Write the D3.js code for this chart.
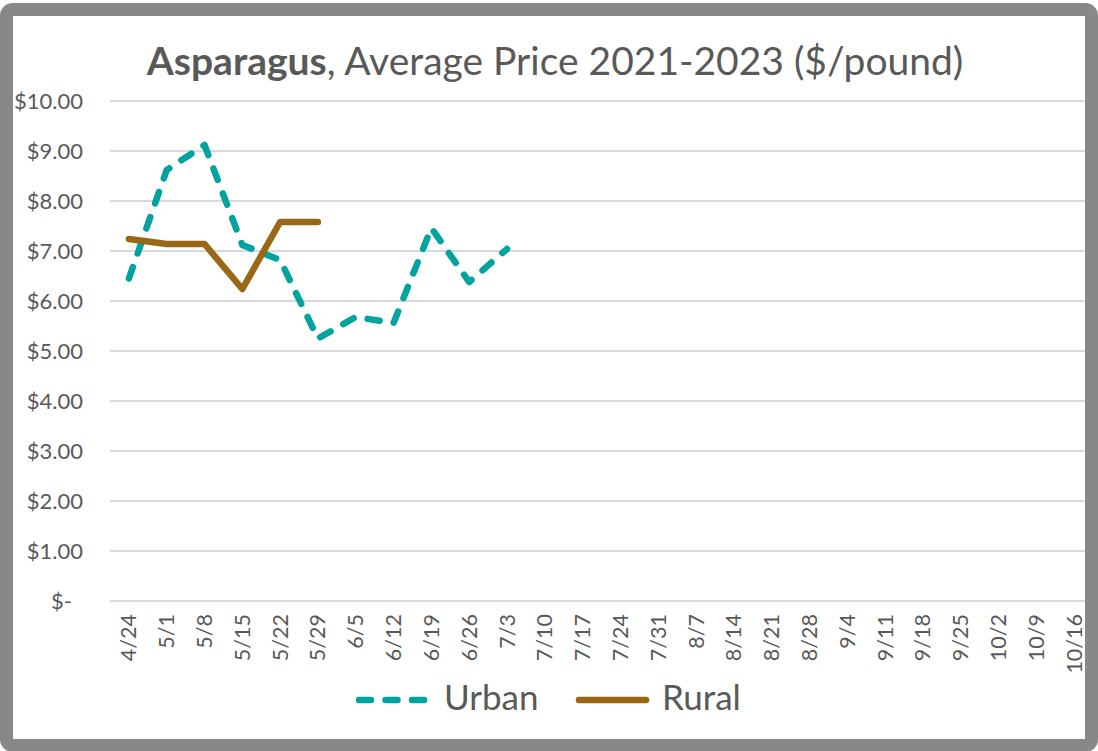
<!DOCTYPE html>
<html>
<head>
<meta charset="utf-8">
<script src="https://cdn.jsdelivr.net/npm/d3@7"></script>
<style>
  body { margin: 0; background: #fff; }
  text { font-family: Lato, "Open Sans", sans-serif; fill: #595959; }
</style>
</head>
<body>
<div id="chart"></div>
<script>
// weeks on the x axis
var weeks = ["4/24","5/1","5/8","5/15","5/22","5/29","6/5","6/12","6/19","6/26","7/3","7/10",
  "7/17","7/24","7/31","8/7","8/14","8/21","8/28","9/4","9/11","9/18","9/25","10/2","10/9","10/16"];
// average price $/pound, only the first weeks have values
var urban = [6.45, 8.62, 9.12, 7.12, 6.82, 5.25, 5.68, 5.56, 7.46, 6.38, 7.04];
var rural = [7.24, 7.14, 7.14, 6.24, 7.58, 7.58];
var yTicks = [0, 1, 2, 3, 4, 5, 6, 7, 8, 9, 10];
var series = [
  {name: "Urban", values: urban, color: "#00A39F", dash: "12,14.5"},
  {name: "Rural", values: rural, color: "#9A6714", dash: null}
];

var W = 1098, H = 751;
var svg = d3.select("#chart").append("svg")
    .attr("width", W)
    .attr("height", H);

var x = d3.scaleBand()
    .domain(weeks)
    .range([110, 1093]);
var y = d3.scaleLinear()
    .domain([0, 10])
    .range([601, 101]);

// gridlines
svg.append("g")
    .selectAll("line")
    .data(yTicks)
    .enter()
    .append("line")
    .attr("x1", 110)
    .attr("x2", 1093)
    .attr("y1", function(d) { return y(d); })
    .attr("y2", function(d) { return y(d); })
    .style("stroke", "#d9d9d9")
    .style("stroke-width", 2);

// y labels
var yAxis = svg.append("g")
    .attr("transform", "translate(110,0)")
    .call(d3.axisLeft(y).tickValues(yTicks).tickSize(0).tickPadding(27)
        .tickFormat(function(d) { return d == 0 ? "$-" : "$" + d3.format(".2f")(d); }));
yAxis.select(".domain").remove();
yAxis.selectAll("text")
    .attr("dx", function(d) { return d == 0 ? -11 : 0; })
    .style("font-size", "22px")
    .style("font-family", "Lato")
    .style("fill", "#595959");

// x labels
var xAxis = svg.append("g")
    .attr("transform", "translate(0,601)")
    .call(d3.axisBottom(x).tickSize(0).tickPadding(0));
xAxis.select(".domain").remove();
xAxis.selectAll("text")
    .attr("transform", "rotate(-90)")
    .attr("x", -13)
    .attr("y", 0)
    .attr("dy", "0.35em")
    .style("text-anchor", "end")
    .style("font-size", "21.5px")
    .style("font-family", "Lato")
    .style("fill", "#595959");

// lines
var line = d3.line()
    .x(function(d, i) { return x(weeks[i]) + x.bandwidth() / 2; })
    .y(function(d) { return y(d); });

series.forEach(function(s) {
    svg.append("path")
        .datum(s.values)
        .attr("d", line)
        .style("fill", "none")
        .style("stroke", s.color)
        .style("stroke-width", 6.5)
        .style("stroke-linecap", "round")
        .style("stroke-linejoin", "round")
        .style("stroke-dasharray", s.dash);
});

// title
var title = svg.append("text")
    .attr("x", 555)
    .attr("y", 75)
    .style("text-anchor", "middle")
    .style("font-size", "39px");
title.append("tspan").style("font-weight", "bold").text("Asparagus");
title.append("tspan").text(", Average Price 2021-2023 ($/pound)");

// legend
var legendPos = [{x1: 359, x2: 426, tx: 444}, {x1: 579, x2: 646, tx: 662}];
series.forEach(function(s, i) {
    var p = legendPos[i];
    svg.append("line")
        .attr("x1", p.x1).attr("x2", p.x2)
        .attr("y1", 700).attr("y2", 700)
        .style("stroke", s.color)
        .style("stroke-width", 6.5)
        .style("stroke-linecap", "round")
        .style("stroke-dasharray", s.dash);
    svg.append("text")
        .attr("x", p.tx)
        .attr("y", 710)
        .style("font-size", "35px")
        .text(s.name);
});

// outer frame
svg.append("rect")
    .attr("x", 6.5)
    .attr("y", 9.5)
    .attr("width", 1085)
    .attr("height", 736)
    .attr("rx", 6)
    .style("fill", "none")
    .style("stroke", "#888888")
    .style("stroke-width", 13);
</script>
</body>
</html>
